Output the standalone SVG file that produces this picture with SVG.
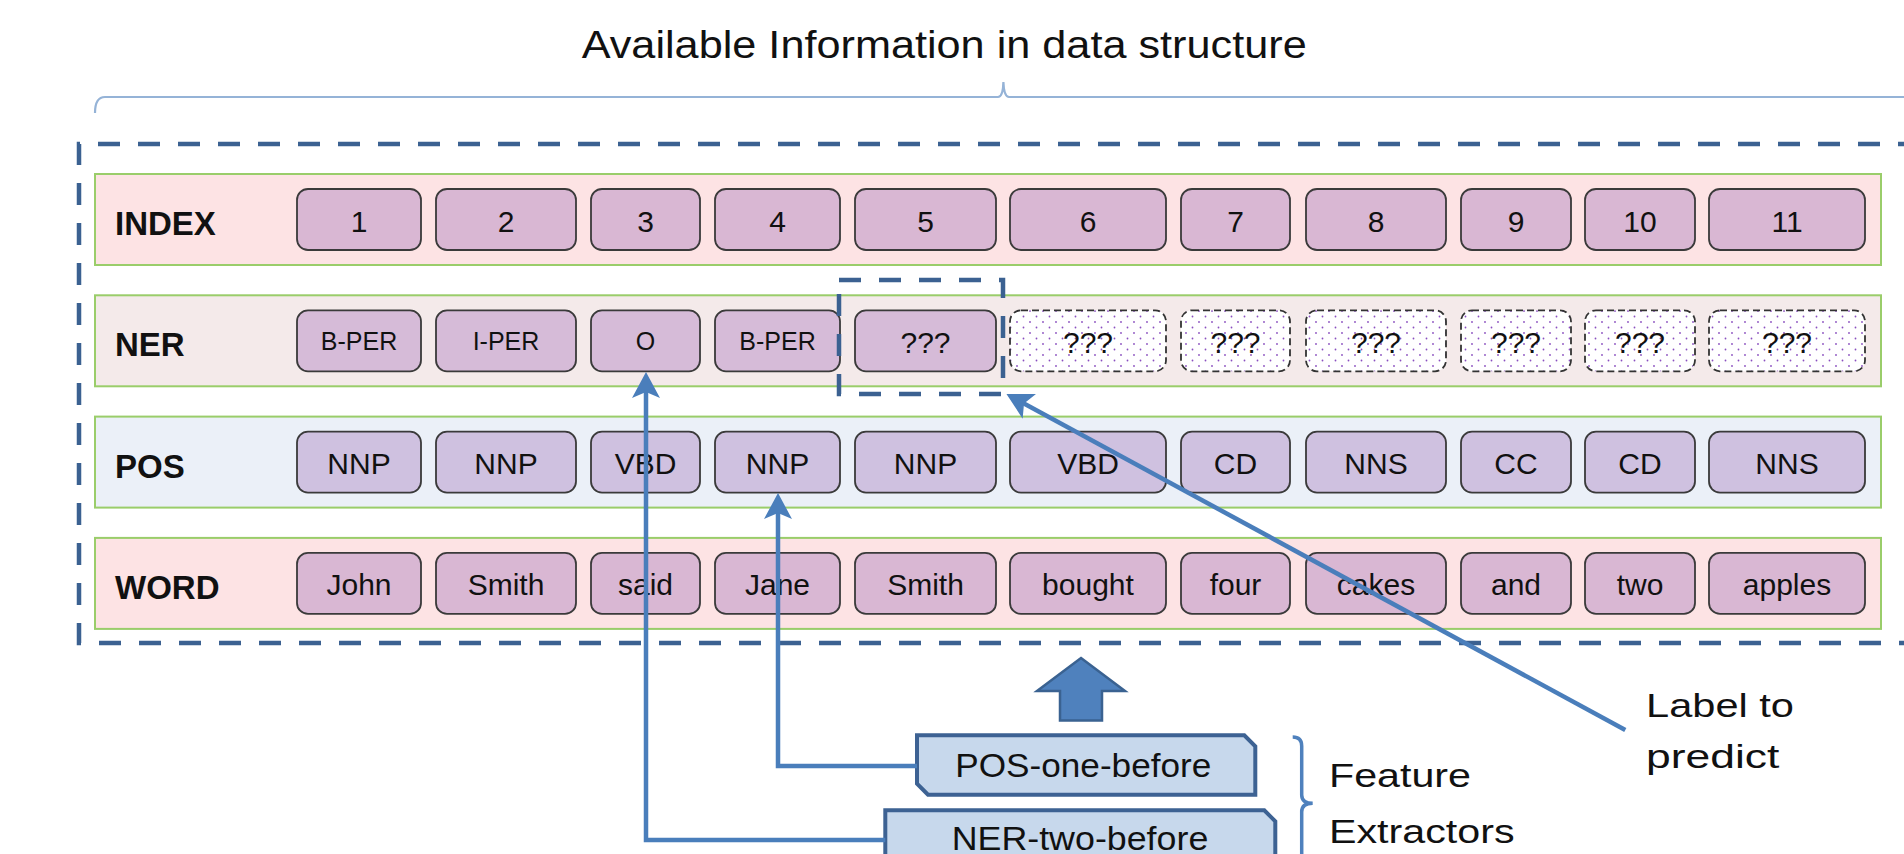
<svg xmlns="http://www.w3.org/2000/svg" width="1904" height="854" viewBox="0 0 1904 854">
  <defs>
    <style>
      text { font-family: "Liberation Sans", Arial, sans-serif; fill: #111111; }
      .title { font-size: 38px; }
      .rowlabel { font-size: 33px; font-weight: bold; }
      .cell { font-size: 30px; text-anchor: middle; }
      .tag { font-size: 25px; text-anchor: middle; }
      .unk { font-size: 30px; text-anchor: middle; }
      .note { font-size: 34px; }
      .fx { font-size: 33px; text-anchor: middle; }
      .row { stroke: #9ACD6A; stroke-width: 2; }
      .row-index, .row-word { fill: #FDE3E4; }
      .row-ner { fill: #F4EAEA; }
      .row-pos { fill: #EBF0F8; }
      .box { stroke: #3A3A3A; stroke-width: 1.8; }
      .box-index, .box-word { fill: #D9B7D3; }
      .box-ner { fill: #D6BBD8; }
      .box-pos { fill: #CFC1E0; }
      .box-open { fill: url(#dots); stroke: #333333; stroke-width: 1.8; stroke-dasharray: 7 4; }
      .frame { fill: none; stroke: #3B6191; stroke-width: 4.5; stroke-dasharray: 22 18; }
      .brace-top { fill: none; stroke: #95B3D7; stroke-width: 2.2; }
      .brace-fx { fill: none; stroke: #4F81BD; stroke-width: 3.5; }
      .link { fill: none; stroke: #4A7EBB; stroke-width: 4.5; }
      .extractor { fill: #C7D8EC; stroke: #3D6293; stroke-width: 4; stroke-linejoin: miter; }
      .block-arrow { fill: #4F81BD; stroke: #3A6291; stroke-width: 2.5; }
    </style>
    <pattern id="dots" width="13" height="11" patternUnits="userSpaceOnUse">
      <rect width="13" height="11" fill="#FFFFFF"/>
      <circle cx="3" cy="3" r="0.9" fill="#8A4FC0"/>
      <circle cx="9.5" cy="8.5" r="0.9" fill="#8A4FC0"/>
    </pattern>
    <marker id="head" viewBox="0 0 30 28" refX="16" refY="14" markerWidth="30" markerHeight="28" markerUnits="userSpaceOnUse" orient="auto">
      <path d="M28,14 L2,0 L8,14 L2,28 Z" fill="#4A7EBB"/>
    </marker>
  </defs>

  <rect width="1904" height="854" fill="#FFFFFF"/>

  <!-- heading and its brace -->
  <g id="heading">
    <text class="title" x="581.7" y="57.7" textLength="725" lengthAdjust="spacingAndGlyphs">Available Information in data structure</text>
    <path class="brace-top" d="M95,113 Q95,97 105,97 H998 Q1003,97 1003.4,82 Q1004,97 1009,97 H1920"/>
  </g>

  <!-- dashed frame around the data structure -->
  <g id="frame">
    <path class="frame" d="M1920,144 H79 V643 H1920"/>
  </g>

  <!-- INDEX row -->
  <g id="row-index">
    <rect class="row row-index" x="95" y="174" width="1786" height="91"/>
    <text class="rowlabel" x="115" y="235">INDEX</text>
    <g id="index-1"><rect class="box box-index" x="297" y="189" width="124" height="61" rx="11"/><text class="cell" x="359" y="231.5">1</text></g>
    <g id="index-2"><rect class="box box-index" x="436" y="189" width="140" height="61" rx="11"/><text class="cell" x="506" y="231.5">2</text></g>
    <g id="index-3"><rect class="box box-index" x="591" y="189" width="109" height="61" rx="11"/><text class="cell" x="645.5" y="231.5">3</text></g>
    <g id="index-4"><rect class="box box-index" x="715" y="189" width="125" height="61" rx="11"/><text class="cell" x="777.5" y="231.5">4</text></g>
    <g id="index-5"><rect class="box box-index" x="855" y="189" width="141" height="61" rx="11"/><text class="cell" x="925.5" y="231.5">5</text></g>
    <g id="index-6"><rect class="box box-index" x="1010" y="189" width="156" height="61" rx="11"/><text class="cell" x="1088" y="231.5">6</text></g>
    <g id="index-7"><rect class="box box-index" x="1181" y="189" width="109" height="61" rx="11"/><text class="cell" x="1235.5" y="231.5">7</text></g>
    <g id="index-8"><rect class="box box-index" x="1306" y="189" width="140" height="61" rx="11"/><text class="cell" x="1376" y="231.5">8</text></g>
    <g id="index-9"><rect class="box box-index" x="1461" y="189" width="110" height="61" rx="11"/><text class="cell" x="1516" y="231.5">9</text></g>
    <g id="index-10"><rect class="box box-index" x="1585" y="189" width="110" height="61" rx="11"/><text class="cell" x="1640" y="231.5">10</text></g>
    <g id="index-11"><rect class="box box-index" x="1709" y="189" width="156" height="61" rx="11"/><text class="cell" x="1787" y="231.5">11</text></g>
  </g>

  <!-- NER row -->
  <g id="row-ner">
    <rect class="row row-ner" x="95" y="295.3" width="1786" height="91"/>
    <text class="rowlabel" x="115" y="356.3">NER</text>
    <g id="ner-1"><rect class="box box-ner" x="297" y="310.3" width="124" height="61" rx="11"/><text class="tag" x="359" y="350">B-PER</text></g>
    <g id="ner-2"><rect class="box box-ner" x="436" y="310.3" width="140" height="61" rx="11"/><text class="tag" x="506" y="350">I-PER</text></g>
    <g id="ner-3"><rect class="box box-ner" x="591" y="310.3" width="109" height="61" rx="11"/><text class="tag" x="645.5" y="350">O</text></g>
    <g id="ner-4"><rect class="box box-ner" x="715" y="310.3" width="125" height="61" rx="11"/><text class="tag" x="777.5" y="350">B-PER</text></g>
    <g id="ner-5"><rect class="box box-ner" x="855" y="310.3" width="141" height="61" rx="11"/><text class="unk" x="925.5" y="353.3">???</text></g>
    <g id="ner-6"><rect class="box-open" x="1010" y="310.3" width="156" height="61" rx="11"/><text class="unk" x="1088" y="353.3">???</text></g>
    <g id="ner-7"><rect class="box-open" x="1181" y="310.3" width="109" height="61" rx="11"/><text class="unk" x="1235.5" y="353.3">???</text></g>
    <g id="ner-8"><rect class="box-open" x="1306" y="310.3" width="140" height="61" rx="11"/><text class="unk" x="1376" y="353.3">???</text></g>
    <g id="ner-9"><rect class="box-open" x="1461" y="310.3" width="110" height="61" rx="11"/><text class="unk" x="1516" y="353.3">???</text></g>
    <g id="ner-10"><rect class="box-open" x="1585" y="310.3" width="110" height="61" rx="11"/><text class="unk" x="1640" y="353.3">???</text></g>
    <g id="ner-11"><rect class="box-open" x="1709" y="310.3" width="156" height="61" rx="11"/><text class="unk" x="1787" y="353.3">???</text></g>
  </g>

  <!-- POS row -->
  <g id="row-pos">
    <rect class="row row-pos" x="95" y="416.6" width="1786" height="91"/>
    <text class="rowlabel" x="115" y="477.6">POS</text>
    <g id="pos-1"><rect class="box box-pos" x="297" y="431.6" width="124" height="61" rx="11"/><text class="cell" x="359" y="474.1">NNP</text></g>
    <g id="pos-2"><rect class="box box-pos" x="436" y="431.6" width="140" height="61" rx="11"/><text class="cell" x="506" y="474.1">NNP</text></g>
    <g id="pos-3"><rect class="box box-pos" x="591" y="431.6" width="109" height="61" rx="11"/><text class="cell" x="645.5" y="474.1">VBD</text></g>
    <g id="pos-4"><rect class="box box-pos" x="715" y="431.6" width="125" height="61" rx="11"/><text class="cell" x="777.5" y="474.1">NNP</text></g>
    <g id="pos-5"><rect class="box box-pos" x="855" y="431.6" width="141" height="61" rx="11"/><text class="cell" x="925.5" y="474.1">NNP</text></g>
    <g id="pos-6"><rect class="box box-pos" x="1010" y="431.6" width="156" height="61" rx="11"/><text class="cell" x="1088" y="474.1">VBD</text></g>
    <g id="pos-7"><rect class="box box-pos" x="1181" y="431.6" width="109" height="61" rx="11"/><text class="cell" x="1235.5" y="474.1">CD</text></g>
    <g id="pos-8"><rect class="box box-pos" x="1306" y="431.6" width="140" height="61" rx="11"/><text class="cell" x="1376" y="474.1">NNS</text></g>
    <g id="pos-9"><rect class="box box-pos" x="1461" y="431.6" width="110" height="61" rx="11"/><text class="cell" x="1516" y="474.1">CC</text></g>
    <g id="pos-10"><rect class="box box-pos" x="1585" y="431.6" width="110" height="61" rx="11"/><text class="cell" x="1640" y="474.1">CD</text></g>
    <g id="pos-11"><rect class="box box-pos" x="1709" y="431.6" width="156" height="61" rx="11"/><text class="cell" x="1787" y="474.1">NNS</text></g>
  </g>

  <!-- WORD row -->
  <g id="row-word">
    <rect class="row row-word" x="95" y="537.9" width="1786" height="91"/>
    <text class="rowlabel" x="115" y="598.9">WORD</text>
    <g id="word-1"><rect class="box box-word" x="297" y="552.9" width="124" height="61" rx="11"/><text class="cell" x="359" y="595.4">John</text></g>
    <g id="word-2"><rect class="box box-word" x="436" y="552.9" width="140" height="61" rx="11"/><text class="cell" x="506" y="595.4">Smith</text></g>
    <g id="word-3"><rect class="box box-word" x="591" y="552.9" width="109" height="61" rx="11"/><text class="cell" x="645.5" y="595.4">said</text></g>
    <g id="word-4"><rect class="box box-word" x="715" y="552.9" width="125" height="61" rx="11"/><text class="cell" x="777.5" y="595.4">Jane</text></g>
    <g id="word-5"><rect class="box box-word" x="855" y="552.9" width="141" height="61" rx="11"/><text class="cell" x="925.5" y="595.4">Smith</text></g>
    <g id="word-6"><rect class="box box-word" x="1010" y="552.9" width="156" height="61" rx="11"/><text class="cell" x="1088" y="595.4">bought</text></g>
    <g id="word-7"><rect class="box box-word" x="1181" y="552.9" width="109" height="61" rx="11"/><text class="cell" x="1235.5" y="595.4">four</text></g>
    <g id="word-8"><rect class="box box-word" x="1306" y="552.9" width="140" height="61" rx="11"/><text class="cell" x="1376" y="595.4">cakes</text></g>
    <g id="word-9"><rect class="box box-word" x="1461" y="552.9" width="110" height="61" rx="11"/><text class="cell" x="1516" y="595.4">and</text></g>
    <g id="word-10"><rect class="box box-word" x="1585" y="552.9" width="110" height="61" rx="11"/><text class="cell" x="1640" y="595.4">two</text></g>
    <g id="word-11"><rect class="box box-word" x="1709" y="552.9" width="156" height="61" rx="11"/><text class="cell" x="1787" y="595.4">apples</text></g>
  </g>

  <!-- dashed highlight on the label being predicted -->
  <g id="target">
    <rect class="frame" x="839" y="280" width="164" height="114"/>
  </g>

  <!-- block arrow from the extractors up to the data structure -->
  <g id="feed-arrow">
    <path class="block-arrow" d="M1081,658 L1125,691 H1102 V720.5 H1060 V691 H1037 Z"/>
  </g>

  <!-- feature extractors -->
  <g id="pos-one-before">
    <path class="extractor" d="M917,735.3 H1244.3 L1255.3,746.3 V794.7 H928 L917,783.7 Z"/>
    <text class="fx" x="1083.3" y="776.7" textLength="256" lengthAdjust="spacingAndGlyphs">POS-one-before</text>
  </g>
  <g id="ner-two-before">
    <path class="extractor" d="M885.3,810.3 H1264.3 L1275.3,821.3 V874 H896 L885.3,863 Z"/>
    <text class="fx" x="1080" y="850" textLength="256.6" lengthAdjust="spacingAndGlyphs">NER-two-before</text>
  </g>

  <g id="extractors-note">
    <path class="brace-fx" d="M1292.7,737 Q1301.7,737 1301.7,746 V795 Q1301.7,803.3 1312.7,803.3 Q1301.7,803.3 1301.7,812 V870"/>
    <text class="note" x="1329" y="786.7" textLength="142" lengthAdjust="spacingAndGlyphs">Feature</text>
    <text class="note" x="1329" y="843.3" textLength="185.6" lengthAdjust="spacingAndGlyphs">Extractors</text>
  </g>

  <g id="predict-note">
    <text class="note" x="1646" y="716.7" textLength="148" lengthAdjust="spacingAndGlyphs">Label to</text>
    <text class="note" x="1646" y="768.3" textLength="133.4" lengthAdjust="spacingAndGlyphs">predict</text>
  </g>

  <!-- connectors -->
  <g id="connectors">
    <path class="link" d="M885.3,840 H646 V384" marker-end="url(#head)"/>
    <path class="link" d="M917,766 H778 V505" marker-end="url(#head)"/>
    <path class="link" d="M1625.3,730 L1017,399.7" marker-end="url(#head)"/>
  </g>
</svg>
